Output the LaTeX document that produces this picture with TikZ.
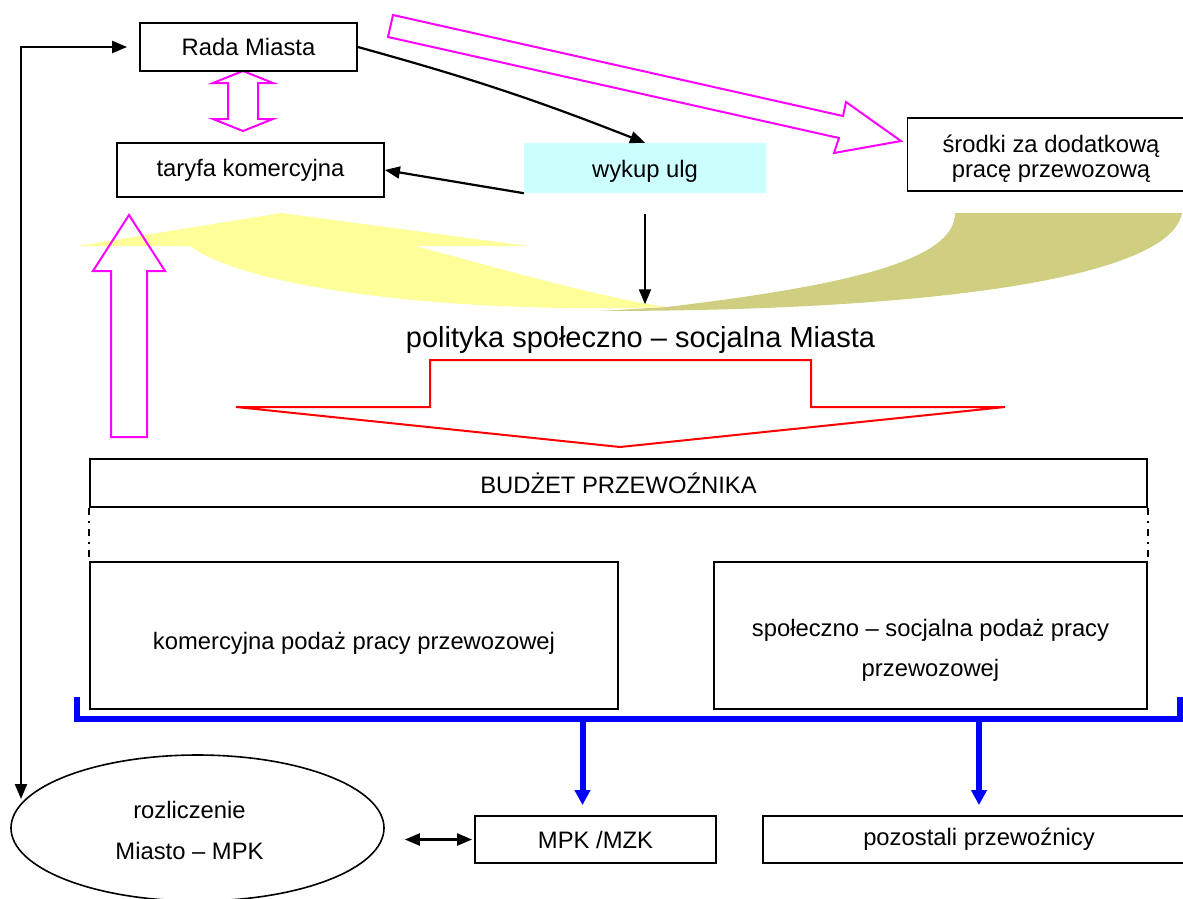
\documentclass[tikz,border=0pt]{standalone}
\usepackage{fontspec}
\setmainfont{Liberation Sans}
\usetikzlibrary{positioning,calc,shapes.geometric,arrows.meta}
\definecolor{ulga}{HTML}{CCFFFF}
\definecolor{jasny}{HTML}{FFFF99}
\definecolor{oliwka}{HTML}{D0CE80}
\definecolor{roz}{HTML}{FF00FF}
\tikzset{block/.style={draw,line width=1.8pt,minimum height=48pt,inner sep=0pt,align=center},
         hollow/.style={draw=roz,line width=2pt},
         niebieski/.style={draw=blue,line width=6pt,>={Triangle[length=15pt,width=15pt]}}
}
\tikzstyle{arrow} = [line width=2.2pt,->,>={Triangle[length=15pt,width=12pt]}]
\begin{document}
\begin{tikzpicture}[x=1pt,y=-1pt,font=\fontsize{23.8}{28}\selectfont]
\useasboundingbox (0,0) rectangle (1183,898);

\fill[oliwka] (955,213) -- (1182,213) .. controls (1170,280) and (920,311) .. (600,311)
  -- (667,307) .. controls (850,285) and (955,260) .. (955,213) -- cycle;
\fill[jasny] (667,307) .. controls (460,314) and (250,290) .. (190,246) -- (78,246) -- (281,213)
  -- (528,246) -- (415,246) .. controls (480,263) and (600,298) .. (667,307) -- cycle;

\draw[hollow] (393,15) -- (843,116) -- (846,102) -- (901,141) -- (834,153) -- (839,138) -- (388,37) -- cycle;
\draw[hollow] (243,71) -- (273,83) -- (258,83) -- (258,119) -- (273,119) -- (243,131)
  -- (213,119) -- (228,119) -- (228,83) -- (213,83) -- cycle;
\draw[hollow] (129,215) -- (165,271) -- (147,271) -- (147,437) -- (111,437) -- (111,271) -- (93,271) -- cycle;
\draw[red,line width=2pt] (236,407) -- (430,407) -- (430,360) -- (811,360) -- (811,407) -- (1005,407) -- (620,447) -- cycle;

\node[block,minimum width=217pt] (rada) at (248.5,47) {Rada Miasta};
\node[block,minimum width=267pt,minimum height=54pt] (taryfa) at (250.5,170) {taryfa komercyjna};
\node[fill=ulga,minimum width=242pt,minimum height=50pt,inner sep=0pt,
      label={[yshift=-3pt]center:wykup ulg}] (wykup) at (645,168) {};
\node[block,minimum width=287pt,minimum height=73pt,
      label={[align=center,yshift=-4pt,font=\fontsize{23.8}{25}\selectfont]center:środki za dodatkową\\pracę przewozową}] (srodki) at (1051,154.5) {};
\node[font=\fontsize{29}{34}\selectfont,inner sep=2pt] (polityka) at (640.5,340) {polityka społeczno – socjalna Miasta};
\node[block,minimum width=1057pt] (budzet) at (618.5,483) {BUDŻET PRZEWOŹNIKA};
\node[block,minimum width=528pt,minimum height=147pt,
      label={[yshift=-8pt]center:komercyjna podaż pracy przewozowej}] (kom) at (354,635.5) {};
\node[block,minimum width=433pt,minimum height=147pt,
      label={[align=center,yshift=-15pt,font=\fontsize{23.8}{40}\selectfont]center:społeczno – socjalna podaż pracy\\przewozowej}] (spol) at (930.5,635.5) {};
\node[draw,ellipse,line width=1.6pt,minimum width=373pt,minimum height=146pt,inner sep=0pt,
      label={[align=center,xshift=-8pt,yshift=-2pt,font=\fontsize{23.8}{41}\selectfont]center:rozliczenie\\Miasto – MPK}] (rozl) at (197.5,828) {};
\node[block,minimum width=241pt,minimum height=47pt] (mpk) at (595.5,839.5) {MPK /MZK};
\node[block,minimum width=432pt,minimum height=47pt] (pozostali) at (979,839.5) {pozostali przewoźnicy};

\coordinate (lewy) at (21,799);
\coordinate (klamra) at (0,719);

\draw[arrow,<->] (lewy) |- ([xshift=-12pt]rada.west);
\draw[arrow] (rada.east) to[bend left=3] (wykup.north);
\draw[arrow] (wykup.south west) -- (taryfa.east);
\draw[arrow,shorten <=21pt,shorten >=20pt] (wykup.south) -- (wykup.south |- polityka.north);
\draw[line width=1.5pt,dash pattern=on 7pt off 6pt on 2pt off 6pt] (budzet.south west) -- (kom.north west);
\draw[line width=1.5pt,dash pattern=on 7pt off 6pt on 2pt off 6pt] (budzet.south east) -- (spol.north east);

\draw[niebieski] (77,697) |- (1180,719) -- (1180,697);
\draw[niebieski,->] ([xshift=-13pt]mpk.north |- klamra) -- ([xshift=-13pt,yshift=10pt]mpk.north);
\draw[niebieski,->] (pozostali.north |- klamra) -- ([yshift=10pt]pozostali.north);
\draw[arrow,<->,shorten <=20pt,shorten >=2pt] (rozl.east |- mpk.west) -- (mpk.west);

\end{tikzpicture}
\end{document}
